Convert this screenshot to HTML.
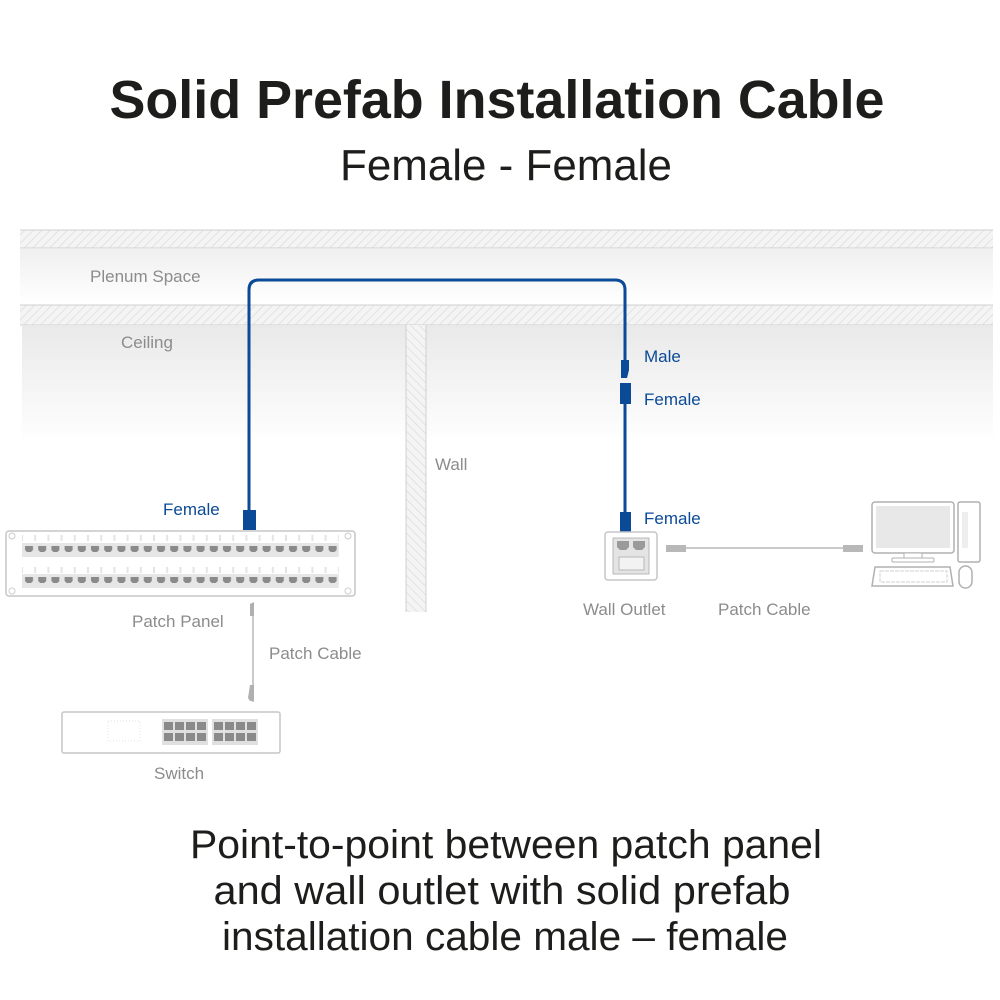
<!DOCTYPE html>
<html><head><meta charset="utf-8"><style>
html,body{margin:0;padding:0;background:#fff;}
svg{display:block;}
text{font-family:"Liberation Sans",sans-serif;}
</style></head><body>
<svg width="1000" height="1000" viewBox="0 0 1000 1000" xmlns="http://www.w3.org/2000/svg">
<defs>
<pattern id="hatch" width="6" height="6" patternUnits="userSpaceOnUse" patternTransform="rotate(45)">
<rect width="6" height="6" fill="#f4f4f4"/><line x1="0" y1="0" x2="0" y2="6" stroke="#dcdcdc" stroke-width="1.5"/></pattern>
<pattern id="hatch2" width="6" height="6" patternUnits="userSpaceOnUse" patternTransform="rotate(-45)">
<rect width="6" height="6" fill="#f4f4f4"/><line x1="0" y1="0" x2="0" y2="6" stroke="#dcdcdc" stroke-width="1.5"/></pattern>
<linearGradient id="g1" x1="0" y1="0" x2="0" y2="1"><stop offset="0" stop-color="#e9e9e9"/><stop offset="1" stop-color="#fff"/></linearGradient>
<pattern id="ports1" x="22" y="543" width="13.2" height="200" patternUnits="userSpaceOnUse">
<rect x="0" y="0" width="13.2" height="14" fill="#e6e6e6"/>
<path d="M3 3 h8 v4 l-2 2 h-4 l-2 -2z" fill="#8a8a8a"/>
</pattern>
<pattern id="ports2" x="22" y="574" width="13.2" height="200" patternUnits="userSpaceOnUse">
<rect x="0" y="0" width="13.2" height="14" fill="#e6e6e6"/>
<path d="M3 3 h8 v4 l-2 2 h-4 l-2 -2z" fill="#8a8a8a"/>
</pattern>
<pattern id="cells" x="22" y="0" width="13.2" height="300" patternUnits="userSpaceOnUse">
<rect x="0.5" y="0" width="12.2" height="300" fill="none" stroke="#e4e4e4"/>
</pattern>
</defs>
<!-- title -->
<text x="497" y="118" font-size="54" text-anchor="middle" textLength="775" lengthAdjust="spacingAndGlyphs" fill="#1d1d1b" font-weight="bold">Solid Prefab Installation Cable</text>
<text x="506" y="180" font-size="44" text-anchor="middle" textLength="332" lengthAdjust="spacingAndGlyphs" fill="#1d1d1b">Female - Female</text>

<!-- building -->
<rect x="20" y="230" width="973" height="18" fill="url(#hatch)"/>
<line x1="20" y1="230" x2="993" y2="230" stroke="#d0d0d0"/>
<line x1="20" y1="248" x2="993" y2="248" stroke="#d0d0d0"/>
<rect x="20" y="249" width="973" height="56" fill="url(#g1)" opacity="0.7"/>
<rect x="20" y="305" width="973" height="20" fill="url(#hatch)"/>
<line x1="20" y1="305" x2="993" y2="305" stroke="#d0d0d0"/>
<line x1="20" y1="325" x2="993" y2="325" stroke="#d0d0d0"/>
<rect x="22" y="326" width="971" height="118" fill="url(#g1)"/>
<rect x="406" y="325" width="20" height="287" fill="url(#hatch2)"/>
<line x1="406" y1="325" x2="406" y2="612" stroke="#d0d0d0"/>
<line x1="426" y1="325" x2="426" y2="612" stroke="#d0d0d0"/>

<text x="90" y="282" font-size="17" fill="#8c8c8c">Plenum Space</text>
<text x="121" y="348" font-size="17" fill="#8c8c8c">Ceiling</text>
<text x="435" y="470" font-size="17" fill="#8c8c8c">Wall</text>

<!-- blue cable -->
<path d="M249 512 V290 Q249 280 259 280 H615 Q625 280 625 290 V362" fill="none" stroke="#0a4a96" stroke-width="3"/>
<rect x="243" y="510" width="13" height="20" fill="#0a4a96"/>
<path d="M621 360 h8 v10 l-2 8 h-6z" fill="#0a4a96"/>
<rect x="620" y="383" width="11" height="21" fill="#0a4a96"/>
<line x1="625" y1="404" x2="625" y2="514" stroke="#0a4a96" stroke-width="3"/>
<rect x="620" y="512" width="11" height="20" fill="#0a4a96"/>
<text x="163" y="515" font-size="17" fill="#0a4a96">Female</text>
<text x="644" y="362" font-size="17" fill="#0a4a96">Male</text>
<text x="644" y="405" font-size="17" fill="#0a4a96">Female</text>
<text x="644" y="524" font-size="17" fill="#0a4a96">Female</text>

<!-- patch panel -->
<rect x="6" y="531" width="349" height="65" rx="3" fill="#fff" stroke="#c6c6c6" stroke-width="1.5"/>
<rect x="22" y="535" width="316.8" height="6" fill="url(#cells)"/>
<rect x="22" y="567" width="316.8" height="6" fill="url(#cells)"/>
<rect x="22" y="543" width="316.8" height="14" fill="url(#ports1)"/>
<rect x="22" y="574" width="316.8" height="14" fill="url(#ports2)"/>
<circle cx="12" cy="536" r="3" fill="none" stroke="#ccc"/>
<circle cx="348" cy="536" r="3" fill="none" stroke="#ccc"/>
<circle cx="12" cy="591" r="3" fill="none" stroke="#ccc"/>
<circle cx="348" cy="591" r="3" fill="none" stroke="#ccc"/>
<text x="132" y="627" font-size="17" fill="#8c8c8c">Patch Panel</text>

<!-- vertical patch cable -->
<line x1="253" y1="605" x2="253" y2="702" stroke="#b8b8b8" stroke-width="1.5"/>
<path d="M250 604 l4 -2 v14 h-4z" fill="#b0b0b0"/>
<path d="M250 685 h4 v16 h-4 l-2 -3z" fill="#b0b0b0"/>
<text x="269" y="659" font-size="17" fill="#8c8c8c">Patch Cable</text>

<!-- switch -->
<rect x="62" y="712" width="218" height="41" rx="2" fill="#fff" stroke="#c6c6c6" stroke-width="1.5"/>
<rect x="108" y="721" width="32" height="20" fill="none" stroke="#e0e0e0" stroke-dasharray="1 2"/>
<rect x="162" y="719" width="46" height="26" fill="#e0e0e0"/>
<rect x="212" y="719" width="46" height="26" fill="#e0e0e0"/>
<g fill="#8a8a8a">
<rect x="164" y="722" width="9" height="8"/><rect x="175" y="722" width="9" height="8"/><rect x="186" y="722" width="9" height="8"/><rect x="197" y="722" width="9" height="8"/>
<rect x="164" y="733" width="9" height="8"/><rect x="175" y="733" width="9" height="8"/><rect x="186" y="733" width="9" height="8"/><rect x="197" y="733" width="9" height="8"/>
<rect x="214" y="722" width="9" height="8"/><rect x="225" y="722" width="9" height="8"/><rect x="236" y="722" width="9" height="8"/><rect x="247" y="722" width="9" height="8"/>
<rect x="214" y="733" width="9" height="8"/><rect x="225" y="733" width="9" height="8"/><rect x="236" y="733" width="9" height="8"/><rect x="247" y="733" width="9" height="8"/>
</g>
<text x="154" y="779" font-size="17" fill="#8c8c8c">Switch</text>

<!-- wall outlet -->
<rect x="605" y="532" width="52" height="48" rx="3" fill="#fff" stroke="#c6c6c6" stroke-width="1.5"/>
<rect x="613" y="538" width="36" height="36" fill="#e4e4e4" stroke="#b8b8b8"/>
<path d="M617 541 h12 v6 l-3 3 h-6 l-3 -3z M633 541 h12 v6 l-3 3 h-6 l-3 -3z" fill="#9a9a9a"/>
<rect x="619" y="557" width="25" height="13" fill="#f2f2f2" stroke="#b8b8b8"/>
<text x="583" y="615" font-size="17" fill="#8c8c8c">Wall Outlet</text>

<!-- horizontal patch cable -->
<line x1="680" y1="548" x2="848" y2="548" stroke="#b8b8b8" stroke-width="1.5"/>
<rect x="666" y="545" width="20" height="7" fill="#b8b8b8"/>
<rect x="843" y="545" width="20" height="7" fill="#b8b8b8"/>
<text x="718" y="615" font-size="17" fill="#8c8c8c">Patch Cable</text>

<!-- computer -->
<rect x="872" y="502" width="82" height="51" rx="3" fill="#fff" stroke="#b0b0b0" stroke-width="1.5"/>
<rect x="876" y="506" width="74" height="42" fill="#e8e8e8"/>
<rect x="904" y="553" width="18" height="5" fill="#fff" stroke="#b0b0b0"/>
<rect x="892" y="558" width="42" height="4" rx="1" fill="#fff" stroke="#b0b0b0"/>
<rect x="958" y="502" width="22" height="60" rx="2" fill="#fff" stroke="#b0b0b0" stroke-width="1.5"/>
<rect x="962" y="512" width="6" height="36" fill="#eee"/>
<path d="M875 567 h75 l3 19 h-81z" fill="#fff" stroke="#b0b0b0" stroke-width="1.5"/>
<rect x="880" y="571" width="67" height="11" fill="none" stroke="#d0d0d0" stroke-dasharray="4 1"/>
<rect x="959" y="566" width="13" height="22" rx="6.5" fill="#fff" stroke="#b0b0b0" stroke-width="1.5"/>

<!-- bottom text -->
<g font-size="40" fill="#1d1d1b" text-anchor="middle">
<text x="506" y="858" textLength="632" lengthAdjust="spacingAndGlyphs">Point-to-point between patch panel</text>
<text x="502" y="904" textLength="577" lengthAdjust="spacingAndGlyphs">and wall outlet with solid prefab</text>
<text x="505" y="950" textLength="566" lengthAdjust="spacingAndGlyphs">installation cable male – female</text>
</g>
</svg>
</body></html>
